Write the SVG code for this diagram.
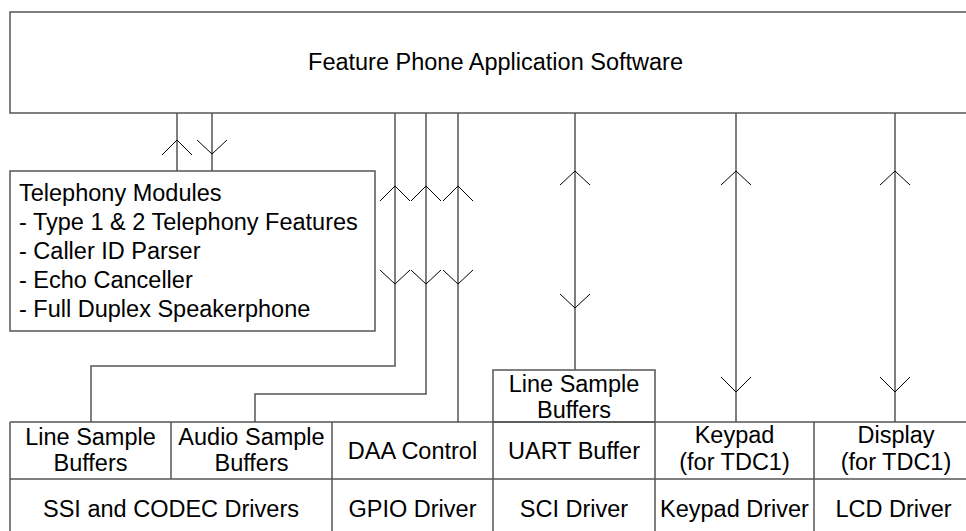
<svg xmlns="http://www.w3.org/2000/svg" width="966" height="531" viewBox="0 0 966 531">
<style>
.box{fill:#fff;stroke:#555;stroke-width:1.5}
.ln{fill:none;stroke:#555;stroke-width:1.5}
.ah{fill:none;stroke:#000;stroke-width:1}
text{font-family:"Liberation Sans",Arial,sans-serif;font-size:23.5px;fill:#000}
.c{text-anchor:middle}
</style>
<rect width="966" height="531" fill="#fff"/>
<g id="app">
<rect class="box" x="10" y="12" width="975" height="101"/>
<text class="c" x="495.5" y="70">Feature Phone Application Software</text>
</g>
<g id="telephony">
<rect class="box" x="10" y="171" width="365" height="160"/>
<text x="19" y="201">Telephony Modules</text>
<text x="19" y="230">- Type 1 &amp; 2 Telephony Features</text>
<text x="19" y="259">- Caller ID Parser</text>
<text x="19" y="288">- Echo Canceller</text>
<text x="19" y="317">- Full Duplex Speakerphone</text>
</g>
<g id="line-sample-buffers-sci">
<rect class="box" x="493" y="370" width="162" height="52"/>
<text class="c" x="574" y="392">Line Sample</text>
<text class="c" x="574" y="418">Buffers</text>
</g>
<g id="driver-table">
<path class="ln" d="M10,422 H985 M10,479 H985 M10,422 V540 M171,422 V479 M332,422 V540 M493,422 V540 M655,422 V540 M814,422 V540"/>
<g id="line-sample-buffers"><text class="c" x="90.5" y="445">Line Sample</text><text class="c" x="90.5" y="471">Buffers</text></g>
<g id="audio-sample-buffers"><text class="c" x="251.5" y="445">Audio Sample</text><text class="c" x="251.5" y="471">Buffers</text></g>
<g id="daa-control"><text class="c" x="412.5" y="459">DAA Control</text></g>
<g id="uart-buffer"><text class="c" x="574" y="459">UART Buffer</text></g>
<g id="keypad"><text class="c" x="734.5" y="443">Keypad</text><text class="c" x="734.5" y="470">(for TDC1)</text></g>
<g id="display"><text class="c" x="896" y="443">Display</text><text class="c" x="896" y="470">(for TDC1)</text></g>
<g id="ssi-codec"><text class="c" x="171" y="517">SSI and CODEC Drivers</text></g>
<g id="gpio"><text class="c" x="412.5" y="517">GPIO Driver</text></g>
<g id="sci"><text class="c" x="574" y="517">SCI Driver</text></g>
<g id="keypad-driver"><text class="c" x="734.5" y="517">Keypad Driver</text></g>
<g id="lcd-driver"><text class="c" x="893.5" y="517">LCD Driver</text></g>
</g>
<g id="connectors">
<path class="ln" d="M177,113 V171 M212,113 V171"/>
<path class="ln" d="M395,113 V366 H91 V422 M426,113 V394 H255 V422 M458,113 V422"/>
<path class="ln" d="M575,113 V370 M736,113 V422 M895,113 V422"/>
<path class="ah" d="M162,155 L177,140 L192,155 M197,140 L212,154 L227,140"/>
<path class="ah" d="M380,201 L395,186 L410,201 M411,201 L426,186 L441,201 M443,201 L458,186 L473,201"/>
<path class="ah" d="M380,270 L395,284 L410,270 M411,270 L426,284 L441,270 M443,270 L458,284 L473,270"/>
<path class="ah" d="M560,185 L575,171 L590,185 M721,185 L736,171 L751,185 M880,185 L895,171 L910,185"/>
<path class="ah" d="M560,294 L575,308 L590,294 M721,377 L736,392 L751,377 M880,377 L895,392 L910,377"/>
</g>
</svg>
